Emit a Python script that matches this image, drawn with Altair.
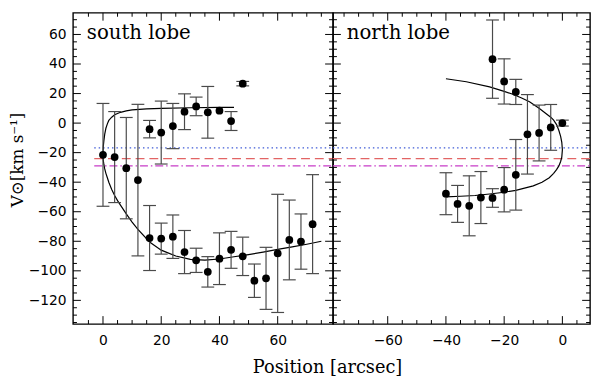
import altair as alt
import pandas as pd

# ---------------- data ----------------
# south lobe measurements
south_x = [0, 4, 8, 12, 16, 20, 24, 28, 32, 36, 40, 44, 48,
           16, 20, 24, 28, 32, 36, 40, 44, 48, 52, 56, 60, 64, 68, 72]
south_v = [-21.5, -23.0, -30.5, -38.6, -4.1, -6.4, -2.0, 7.7, 11.3, 7.3, 8.4, 1.4, 26.7,
           -77.8, -78.2, -76.9, -87.3, -92.9, -100.7, -91.8, -85.8, -90.2, -106.7, -105.1,
           -88.2, -79.1, -80.2, -68.4]
south_e = [34.8, 30.8, 34.3, 51.3, 5.9, 21.3, 15.3, 12.1, 6.3, 17.5, 0.0, 6.4, 1.5,
           22.0, 10.5, 14.7, 14.6, 8.2, 10.3, 17.5, 12.5, 13.0, 11.3, 21.0, 40.0, 27.0,
           18.7, 33.5]

# north lobe measurements
north_x = [-24, -20, -16, -12, -8, -4, 0, -16, -40, -36, -32, -28, -24, -20]
north_v = [43.3, 28.2, 21.1, -7.6, -6.7, -2.9, 0.0, -35.0, -47.8, -54.7, -56.0, -50.4, -50.7, -45.1]
north_e = [26.5, 15.3, 8.5, 26.9, 18.9, 15.5, 2.0, 23.9, 14.2, 12.5, 20.3, 17.6, 6.3, 15.0]

# south model curve (upper branch end -> cusp -> lower branch end)
south_cx = [45, 40, 30, 20, 15, 10, 8, 6, 4, 3, 2, 1.5, 1, 0.6, 0.3, 0.1, 0,
            0.1, 0.3, 0.6, 1, 1.5, 2, 3, 4, 5, 6, 8, 10, 12, 16, 20, 25, 30, 35,
            40, 45, 50, 55, 60, 65, 70, 75]
south_cy = [10.7, 10.6, 10.4, 10.0, 9.6, 9.0, 8.3, 7.3, 5.6, 4.0, 1.8, -0.5, -3.5, -7.5, -12, -16, -21,
            -25, -28, -31, -34, -37, -40, -45, -49, -52.5, -55.5, -61.5, -67, -72, -80.5, -86, -90,
            -92.3, -92.7, -92, -90.5, -89, -87.3, -85.5, -83.8, -82, -80]

# north model curve
north_cx = [-40, -33, -25, -20, -17, -14, -11.3, -8, -6, -4, -3, -2, -1.2, -0.6, -0.2, 0,
            -0.2, -0.6, -1.2, -2, -3, -4.5, -7, -10, -13, -16, -20, -25, -30, -35, -40]
north_cy = [30, 28, 24.5, 21.5, 19.5, 17, 14.5, 10, 7, 4, 2, -1, -5, -9, -13, -18,
            -23, -26, -29, -31.5, -34, -37, -40, -42.5, -44, -45.5, -46.8, -48, -49, -49.5, -50]

# reference velocities (horizontal lines)
v_blue = -16.7
v_red = -24.0
v_magenta = -29.0

panel_labels = ["south lobe", "north lobe"]
x_title = "Position [arcsec]"
y_title = "V⊙[km s⁻¹]"

y_major = [-120, -100, -80, -60, -40, -20, 0, 20, 40, 60]
y_minor = [v for v in range(-135, 75, 5) if v % 20 != 0]
xl_major = [0, 20, 40, 60]
xl_minor = [v for v in range(-5, 80, 5) if v % 20 != 0]
xr_major = [-60, -40, -20, 0]
xr_minor = [v for v in range(-75, 10, 5) if v % 20 != 0]

# ---------------- layout ----------------
W_L, W_R, H = 264, 261, 316
Y_DOM = [-136, 74.67]
XL_DOM = [-10.3, 79]
XR_DOM = [-78.8, 9.5]
SANS = "DejaVu Sans"
SERIF = "DejaVu Serif"


def panel(xdom, width, px, pv, pe, cx, cy, label, xmajor, xminor, left, line_start):
    xs = alt.Scale(domain=xdom, nice=False, zero=False)
    ys = alt.Scale(domain=Y_DOM, nice=False, zero=False)
    xaxis = alt.Axis(values=xmajor, labelFont=SANS, labelFontSize=14, labelColor="black",
                     labelPadding=10, ticks=False, domain=False, grid=False,
                     title=x_title if left else "", titleFont=SERIF, titleFontSize=18,
                     titleFontWeight="normal", titleColor="black", titleX=258, titleY=44,
                     titleBaseline="middle", titleAlign="center")
    if left:
        yaxis = alt.Axis(values=y_major, labelFont=SANS, labelFontSize=14, labelColor="black",
                         labelPadding=7, ticks=False, domain=False, grid=False,
                         title=y_title, titleFont=SERIF, titleFontSize=17,
                         titleFontWeight="normal", titleColor="black", titleAngle=270,
                         titleX=-56, titleY=149, titleBaseline="middle", titleAlign="center")
    else:
        yaxis = None

    def X(f="x"):
        return alt.X(f"{f}:Q", scale=xs, axis=xaxis)

    def Y(f="y"):
        return alt.Y(f"{f}:Q", scale=ys, axis=yaxis)

    layers = []
    # reference lines
    for v, col, dash, sw in [(v_blue, "#3f5bd6", [1.5, 3], 1.3),
                             (v_red, "#e26464", [9, 5], 1.3),
                             (v_magenta, "#c83cc8", [8, 3, 1.5, 3], 1.2)]:
        d = pd.DataFrame({"x": [line_start if line_start is not None else xdom[0]], "y": [v]})
        layers.append(alt.Chart(d).mark_rule(color=col, strokeDash=dash, strokeWidth=sw)
                      .encode(x=X(), x2=alt.value(width), y=Y()))

    # model curve
    cdf = pd.DataFrame({"x": cx, "y": cy, "o": list(range(len(cx)))})
    layers.append(alt.Chart(cdf).mark_line(color="black", strokeWidth=1.2)
                  .encode(x=X(), y=Y(), order="o:Q"))

    # error bars
    pdf = pd.DataFrame({"x": px, "y": pv, "e": pe})
    edf = pdf[pdf["e"] > 0].copy()
    edf["lo"] = edf["y"] - edf["e"]
    edf["hi"] = edf["y"] + edf["e"]
    layers.append(alt.Chart(edf).mark_rule(color="#4a4a4a", strokeWidth=1.2)
                  .encode(x=X(), y=Y("lo"), y2="hi:Q"))
    caps = pd.DataFrame({"x": list(edf["x"]) * 2, "y": list(edf["lo"]) + list(edf["hi"])})
    layers.append(alt.Chart(caps).mark_tick(color="#4a4a4a", orient="horizontal",
                                            size=13, thickness=1.2, opacity=1)
                  .encode(x=X(), y=Y()))
    # points
    layers.append(alt.Chart(pdf).mark_circle(color="black", size=62, opacity=1)
                  .encode(x=X(), y=Y()))

    # panel label
    tdf = pd.DataFrame({"t": [label]})
    layers.append(alt.Chart(tdf).mark_text(align="left", baseline="alphabetic", font=SERIF,
                                           fontSize=20, color="black")
                  .encode(x=alt.value(14), y=alt.value(27), text="t:N"))

    # inward ticks (major 8px, minor 4px) on all four sides
    for vals, ln in [(xmajor, 8), (xminor, 4)]:
        d = pd.DataFrame({"x": vals})
        layers.append(alt.Chart(d).mark_rule(color="black", strokeWidth=1)
                      .encode(x=X(), y=alt.value(H), y2=alt.value(H - ln)))
        layers.append(alt.Chart(d).mark_rule(color="black", strokeWidth=1)
                      .encode(x=X(), y=alt.value(0), y2=alt.value(ln)))
    for vals, ln in [(y_major, 8), (y_minor, 4)]:
        d = pd.DataFrame({"y": vals})
        layers.append(alt.Chart(d).mark_rule(color="black", strokeWidth=1)
                      .encode(y=Y(), x=alt.value(0), x2=alt.value(ln)))
        layers.append(alt.Chart(d).mark_rule(color="black", strokeWidth=1)
                      .encode(y=Y(), x=alt.value(width - ln), x2=alt.value(width)))

    return alt.layer(*layers).properties(width=width, height=H)


left = panel(XL_DOM, W_L, south_x, south_v, south_e, south_cx, south_cy, panel_labels[0],
             xl_major, xl_minor, True, -3)
right = panel(XR_DOM, W_R, north_x, north_v, north_e, north_cx, north_cy, panel_labels[1],
              xr_major, xr_minor, False, None)

chart = (alt.hconcat(left, right, spacing=0, bounds="flush")
         .properties(padding={"left": 0, "top": 0, "right": 0, "bottom": 0})
         .configure_view(stroke="black", strokeWidth=1.4)
         .configure_axis(grid=False))

chart.save("out.html", embed_options={"renderer": "svg", "actions": False})
